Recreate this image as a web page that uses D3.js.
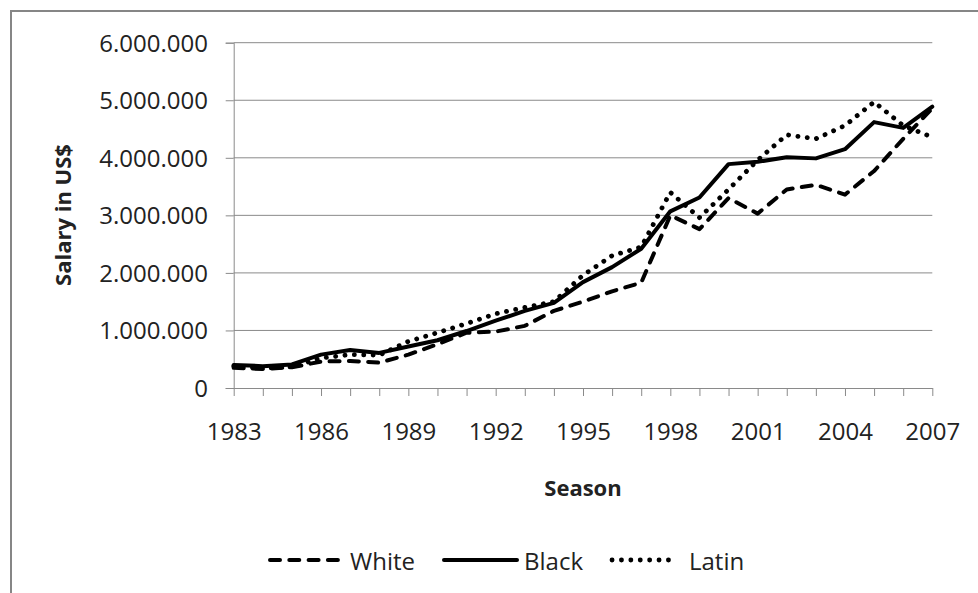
<!DOCTYPE html>
<html>
<head>
<meta charset="utf-8">
<script src="https://cdn.jsdelivr.net/npm/d3@7"></script>
<style>
    body{margin:0;background:#fff;}
    svg{display:block;font-family:"Open Sans",sans-serif;}
</style>
</head>
<body>
<svg id="drawing_region"></svg>
<script>
const years = [1983,1984,1985,1986,1987,1988,1989,1990,1991,1992,1993,1994,1995,
    1996,1997,1998,1999,2000,2001,2002,2003,2004,2005,2006,2007];
const year_labels = [1983,1986,1989,1992,1995,1998,2001,2004,2007];
const y_ticks = [0,1000000,2000000,3000000,4000000,5000000,6000000];

const white = [350000,330000,360000,460000,470000,440000,580000,760000,960000,980000,1080000,1340000,
    1500000,1680000,1830000,3000000,2760000,3300000,3030000,3450000,3530000,3360000,3770000,4330000,4860000];
const black = [400000,380000,410000,580000,660000,610000,720000,830000,990000,1170000,1340000,1480000,
    1840000,2100000,2420000,3070000,3310000,3890000,3930000,4010000,3990000,4150000,4620000,4520000,4890000];
const latin = [380000,340000,370000,520000,580000,570000,810000,960000,1120000,1290000,1400000,1500000,
    1960000,2300000,2450000,3400000,2960000,3450000,3960000,4400000,4330000,4560000,4970000,4560000,4360000];

const series_names = ["White","Black","Latin"];
const series_values = [white,black,latin];

const locale = d3.formatLocale({decimal:",",thousands:".",grouping:[3],currency:["","$"]});

class LineChart{
    constructor(config){
        this.config = config;
        this.init();
    }

    init(){
        let self = this;
        self.svg = d3.select(self.config.parent)
            .attr("width",self.config.width)
            .attr("height",self.config.height);

        // outer chart border (right/bottom edges fall outside the picture)
        self.svg.append("rect")
            .attr("x",11).attr("y",11)
            .attr("width",1200).attr("height",1000)
            .attr("fill","none")
            .attr("stroke","#868686")
            .attr("stroke-width",2);

        self.xscale = d3.scalePoint()
            .domain(years)
            .range([233.7,932.3]);
        self.yscale = d3.scaleLinear()
            .domain([0,6000000])
            .range([388,42.7]);

        self.chart = self.svg.append("g");
    }

    render(){
        let self = this;
        const fmt = locale.format(",");

        // gridlines
        self.chart.append("g")
            .selectAll("line")
            .data(y_ticks.filter(d=>d>0))
            .join("line")
            .attr("x1",self.xscale(years[0]))
            .attr("x2",self.xscale(years[years.length-1]))
            .attr("y1",d=>self.yscale(d))
            .attr("y2",d=>self.yscale(d))
            .attr("stroke","#8a8a8a")
            .attr("stroke-width",1);

        const yaxis = d3.axisLeft(self.yscale)
            .tickValues(y_ticks)
            .tickSize(8)
            .tickPadding(17.7)
            .tickFormat(d=>fmt(d));
        const yg = self.chart.append("g")
            .attr("transform",`translate(${self.xscale(years[0])},0)`)
            .call(yaxis);
        yg.select(".domain").attr("stroke","#8a8a8a");
        yg.selectAll(".tick line").attr("stroke","#8a8a8a");
        yg.selectAll(".tick text")
            .attr("dy","0.35em")
            .attr("font-size","24px")
            .attr("font-family","Open Sans")
            .attr("fill","#222");

        const xaxis = d3.axisBottom(self.xscale)
            .tickSize(8)
            .tickSizeOuter(0)
            .tickFormat(d=>year_labels.includes(d) ? d : "");
        const xg = self.chart.append("g")
            .attr("transform",`translate(0,${self.yscale(0)})`)
            .call(xaxis);
        xg.select(".domain").attr("stroke","#8a8a8a");
        xg.selectAll(".tick line").attr("stroke","#8a8a8a");
        xg.selectAll(".tick text")
            .attr("y",52)
            .attr("dy",0)
            .attr("font-size","24px")
            .attr("font-family","Open Sans")
            .attr("fill","#222");

        // axis titles
        self.svg.append("text")
            .attr("x",583)
            .attr("y",487)
            .attr("text-anchor","middle")
            .attr("dominant-baseline","central")
            .attr("font-size","22px")
            .attr("font-weight","bold")
            .attr("fill","#222")
            .text("Season");
        self.svg.append("text")
            .attr("transform","translate(62,215) rotate(-90)")
            .attr("text-anchor","middle")
            .attr("dominant-baseline","central")
            .attr("font-size","22px")
            .attr("font-weight","bold")
            .attr("fill","#222")
            .text("Salary in US$");

        // lines
        const line = d3.line()
            .x((d,i)=>self.xscale(years[i]))
            .y(d=>self.yscale(d));
        self.chart.append("g")
            .selectAll("path")
            .data(series_values)
            .join("path")
            .attr("d",d=>line(d))
            .attr("fill","none")
            .attr("stroke","#000")
            .attr("stroke-width",(d,i)=>self.config.widths[i])
            .attr("stroke-linejoin","round")
            .attr("stroke-linecap","round")
            .attr("stroke-dasharray",(d,i)=>self.config.dash[i]);

        // legend
        const legend = self.svg.append("g")
            .selectAll("g")
            .data(series_names)
            .join("g")
            .attr("transform",(d,i)=>`translate(${self.config.legend_x[i]},560)`);
        legend.append("line")
            .attr("x1",0).attr("x2",(d,i)=>i==2 ? 65 : 73)
            .attr("y1",0).attr("y2",0)
            .attr("stroke","#000")
            .attr("stroke-width",(d,i)=>self.config.widths[i])
            .attr("stroke-linecap","round")
            .attr("stroke-dasharray",(d,i)=>self.config.dash[i]);
        legend.append("text")
            .attr("x",(d,i)=>i==2 ? 77 : 80)
            .attr("y",0)
            .attr("dominant-baseline","central")
            .attr("font-size","24px")
            .attr("fill","#222")
            .text(d=>d);
    }
}

const config = {
    parent:"#drawing_region",
    width:978,
    height:593,
    dash:["10,9.3","none","0.1,9.3"],
    widths:[4,4,4.8],
    legend_x:[270,444,612]
};
const line_chart = new LineChart(config);
line_chart.render();
</script>
</body>
</html>
